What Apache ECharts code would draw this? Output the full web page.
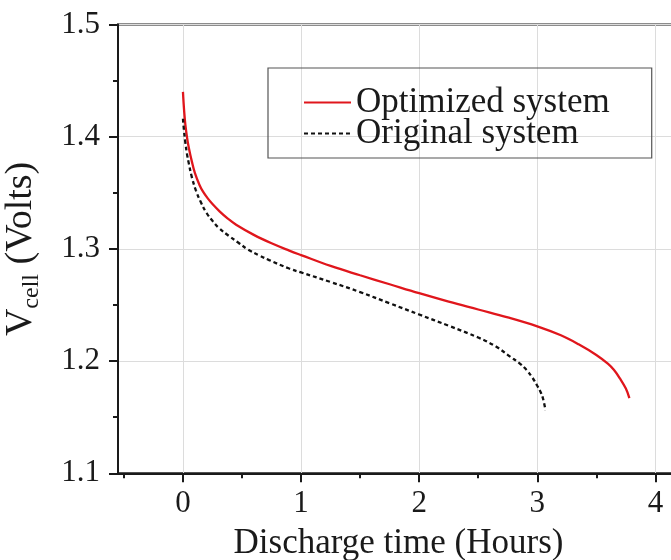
<!DOCTYPE html>
<html>
<head>
<meta charset="utf-8">
<script src="https://cdn.jsdelivr.net/npm/echarts@6/dist/echarts.min.js"></script>
<style>html,body{margin:0;padding:0;background:#fff;}#c{width:671px;height:560px;}</style>
</head>
<body>
<div id="c"></div>
<script>
var timeOpt = [0, 0.01, 0.02, 0.035, 0.05, 0.075, 0.1, 0.14, 0.17, 0.21, 0.25, 0.31, 0.38, 0.45, 0.6, 0.75, 0.9, 1.0, 1.25, 1.5, 1.75, 2.0, 2.25, 2.5, 2.75, 3.0, 3.2, 3.35, 3.5, 3.6, 3.65, 3.7, 3.75, 3.78];
var voltOpt = [1.440, 1.423, 1.411, 1.399, 1.390, 1.378, 1.368, 1.357, 1.351, 1.345, 1.340, 1.3335, 1.327, 1.3215, 1.3125, 1.305, 1.2985, 1.2945, 1.2848, 1.2765, 1.2685, 1.2605, 1.253, 1.246, 1.239, 1.231, 1.223, 1.215, 1.2055, 1.1975, 1.192, 1.1845, 1.1755, 1.167];
var timeOrig = [0, 0.01, 0.02, 0.035, 0.05, 0.075, 0.11, 0.15, 0.2, 0.25, 0.3, 0.39, 0.47, 0.55, 0.65, 0.73, 0.9, 1.0, 1.25, 1.5, 1.75, 2.0, 2.25, 2.5, 2.65, 2.77, 2.85, 2.91, 2.96, 3.0, 3.03, 3.05, 3.07];
var voltOrig = [1.416, 1.404, 1.395, 1.384, 1.376, 1.364, 1.352, 1.342, 1.332, 1.325, 1.319, 1.3115, 1.3055, 1.2995, 1.294, 1.290, 1.2825, 1.279, 1.2705, 1.2615, 1.2515, 1.2415, 1.2315, 1.221, 1.213, 1.204, 1.198, 1.192, 1.185, 1.178, 1.172, 1.166, 1.156];
var xMajorTicks = [0, 1, 2, 3, 4];
var xMinorTicks = [-0.5, 0.5, 1.5, 2.5, 3.5];
var seriesNames = ['Optimized system', 'Original system'];

function pairs(xs, ys) { return xs.map(function (x, i) { return [x, ys[i]]; }); }

var FONT = 'Liberation Serif';
var INK = '#1a1a1a';
var chart = echarts.init(document.getElementById('c'), null, { renderer: 'canvas' });
chart.setOption({
  animation: false,
  backgroundColor: '#fff',
  grid: { left: 118, right: -8, top: 24.5, bottom: 86.7, outerBoundsMode: 'none', containLabel: false,
    show: true, borderColor: INK, borderWidth: 2, backgroundColor: 'transparent' },
  legend: {
    orient: 'vertical', left: 268, top: 68,
    itemWidth: 47, itemHeight: 14, itemGap: -4,
    borderColor: '#555', borderWidth: 1.2, padding: [17, 42, 7, 35],
    itemStyle: { opacity: 0 },
    textStyle: { fontFamily: FONT, fontSize: 35, color: INK },
    data: seriesNames
  },
  xAxis: [{
    type: 'value', min: -0.55, max: 4.2,
    name: 'Discharge time (Hours)', nameLocation: 'middle', nameGap: 53,
    nameTextStyle: { fontFamily: FONT, fontSize: 35, color: INK },
    axisLine: { show: true, onZero: false, lineStyle: { color: INK, width: 2 } },
    axisTick: { show: true, customValues: xMajorTicks, length: 9, lineStyle: { color: INK, width: 2 } },
    axisLabel: { customValues: xMajorTicks, margin: 15, fontFamily: FONT, fontSize: 31, color: INK },
    splitLine: { show: true, lineStyle: { color: '#dcdcdc', width: 1 } }
  }, {
    type: 'value', min: -0.55, max: 4.2, position: 'bottom', gridIndex: 0,
    axisLine: { show: false, onZero: false },
    axisTick: { show: true, customValues: xMinorTicks, length: 5, lineStyle: { color: INK, width: 2 } },
    axisLabel: { show: false },
    splitLine: { show: false }
  }],
  yAxis: {
    type: 'value', min: 1.1, max: 1.5, interval: 0.1,
    name: '{v|V}{s|cell}{v| (Volts)}', nameLocation: 'middle', nameGap: 78, nameRotate: 90,
    nameTextStyle: { fontFamily: FONT, fontSize: 38, color: INK,
      rich: { v: { fontFamily: FONT, fontSize: 38, color: INK }, s: { fontFamily: FONT, fontSize: 24, color: INK, verticalAlign: 'bottom', padding: [0, 0, -4, 0] } } },
    axisLine: { show: true, onZero: false, lineStyle: { color: INK, width: 2 } },
    axisTick: { show: true, length: 9, lineStyle: { color: INK, width: 2 } },
    minorTick: { show: true, splitNumber: 2, length: 5, lineStyle: { color: INK, width: 2 } },
    axisLabel: { margin: 18, fontFamily: FONT, fontSize: 31, color: INK, formatter: function (v) { return v.toFixed(1); } },
    splitLine: { show: true, lineStyle: { color: '#dcdcdc', width: 1 } }
  },
  series: [{
    name: seriesNames[0], type: 'line', xAxisIndex: 0, data: pairs(timeOpt, voltOpt),
    symbol: 'none', smooth: 0.4,
    lineStyle: { color: '#e0161c', width: 2.3 }, itemStyle: { color: '#e0161c' }
  }, {
    name: seriesNames[1], type: 'line', xAxisIndex: 0, data: pairs(timeOrig, voltOrig),
    symbol: 'none', smooth: 0.4,
    lineStyle: { color: '#111', width: 2.3, type: [4, 3] }, itemStyle: { color: '#111' }
  }]
});
</script>
</body>
</html>
